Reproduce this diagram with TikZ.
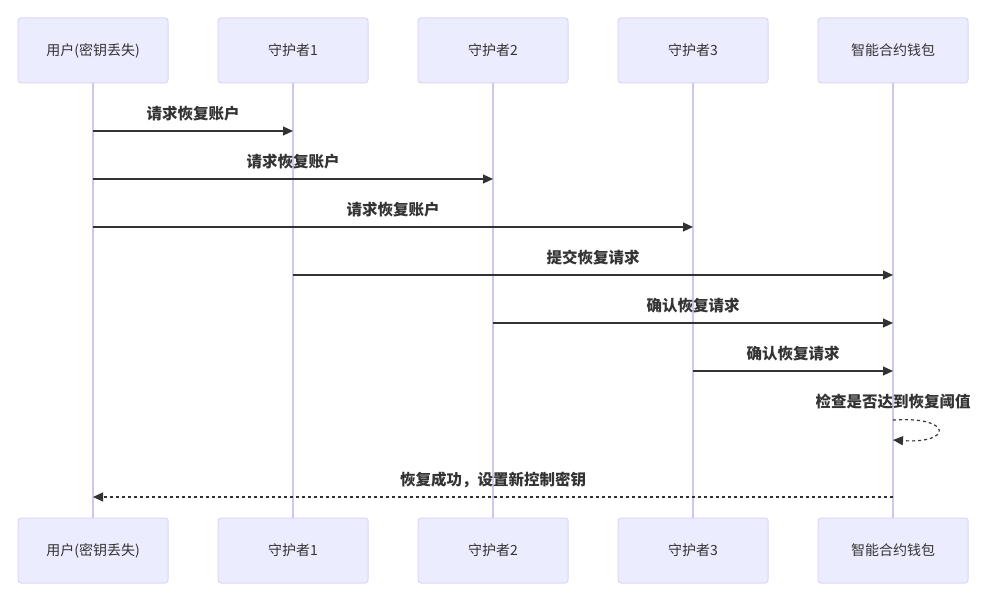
\documentclass[tikz,border=0pt]{standalone}
\usepackage{fontspec}
\setmainfont{Noto Sans CJK SC}
\usetikzlibrary{arrows.meta}
\definecolor{actfill}{HTML}{ECECFF}
\definecolor{actline}{HTML}{DDD5F6}
\definecolor{lifec}{HTML}{D2C6F0}
\definecolor{txt}{HTML}{333333}
\tikzset{
  actor/.style={draw=actline, fill=actfill, rounded corners=3pt, minimum width=150pt, minimum height=65pt, inner sep=0pt, font=\fontsize{14}{16}\selectfont, text=txt, line width=1pt},
  life/.style={draw=lifec, line width=1.6pt},
  msg/.style={draw=txt, line width=1.2pt, -{Triangle[length=10pt,width=9pt]}},
  dmsg/.style={msg, dash pattern=on 3pt off 3pt},
  mlabel/.style={font=\bfseries\fontsize{15.5}{17}\selectfont, text=txt, inner sep=0pt}
}
\begin{document}
\begin{tikzpicture}[x=1pt,y=-1pt]
\useasboundingbox (0,0) rectangle (983,594);
\foreach \n/\x/\t in {u/93/用户(密钥丢失),g1/293/守护者1,g2/493/守护者2,g3/693/守护者3,w/893/智能合约钱包}{
  \node[actor] (\n t) at (\x,50.5) {\t};
  \node[actor] (\n b) at (\x,550.5) {\t};
  \draw[life] (\n t.south) -- (\n b.north);
}
% message anchor coordinates
\foreach \n/\x in {u/93,g1/293,g2/493,g3/693,w/893}{
  \foreach \k/\y in {1/131,2/179,3/227,4/275,5/323,6/371,7a/420,7b/440,8/497}{
    \coordinate (\n\k) at (\x,\y);
  }
}
\draw[msg] (u1) -- (g11) node[mlabel, midway, above=9pt] {请求恢复账户};
\draw[msg] (u2) -- (g22) node[mlabel, midway, above=9pt] {请求恢复账户};
\draw[msg] (u3) -- (g33) node[mlabel, midway, above=9pt] {请求恢复账户};
\draw[msg] (g14) -- (w4) node[mlabel, midway, above=9pt] {提交恢复请求};
\draw[msg] (g25) -- (w5) node[mlabel, midway, above=9pt] {确认恢复请求};
\draw[msg] (g36) -- (w6) node[mlabel, midway, above=9pt] {确认恢复请求};
\node[mlabel] (chk) at (893,402) {检查是否达到恢复阈值};
\draw[dmsg] (w7a) .. controls (953,416) and (953,444) .. (w7b);
\draw[dmsg] (w8) -- (u8) node[mlabel, midway, above=9pt] {恢复成功，设置新控制密钥};
\end{tikzpicture}
\end{document}
